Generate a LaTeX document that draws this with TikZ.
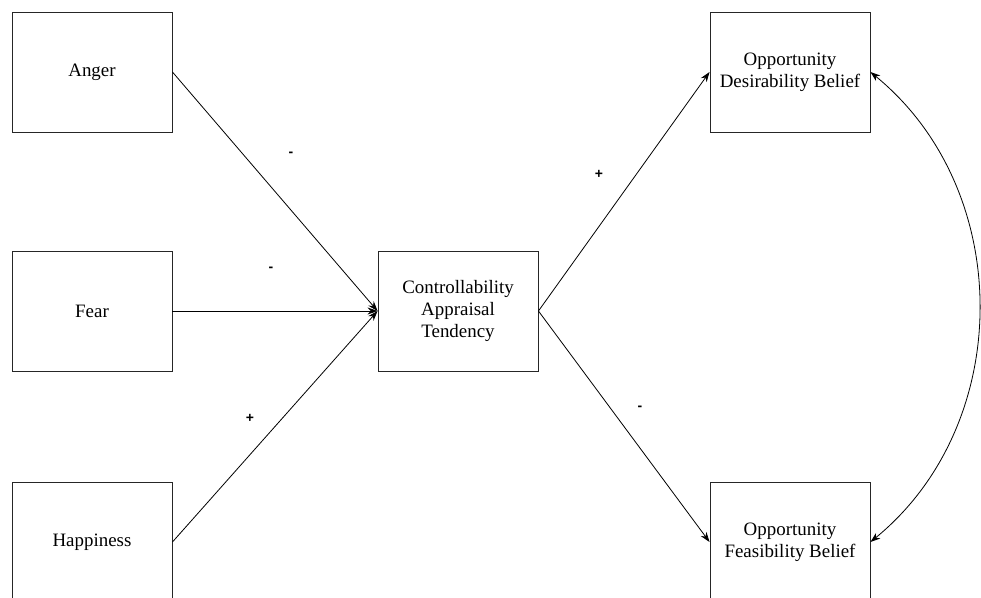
\documentclass[tikz,border=0pt]{standalone}
\usepackage{fontspec}
\setmainfont{Liberation Serif}
\setsansfont{Liberation Sans}
\usetikzlibrary{arrows.meta}
\begin{document}
\begin{tikzpicture}[x=1bp,y=-1bp,
  box/.style={draw=black!85,line width=0.9bp,minimum width=160bp,minimum height=120bp,
    inner sep=0pt,align=center,font=\fontsize{19}{22.5}\selectfont},
  tip/.style={Stealth[length=10bp,width=7bp]},
  link/.style={line width=0.8bp,-{Stealth[length=10bp,width=7bp]}},
  sign/.style={font=\sffamily\bfseries\fontsize{14}{14}\selectfont,inner sep=0pt}]
  \useasboundingbox (0,0) rectangle (981,598);
  \clip (0,0) rectangle (981,598);
  % predictor emotions
  \node[box] (anger) at (92,72) {Anger};
  \node[box] (fear)  at (92,311) {Fear};
  \node[box] (happy) at (92,542) {Happiness};
  % mediator
  \node[box] (ctrl) at (458,311) {Controllability\\Appraisal\\Tendency};
  % outcomes
  \node[box] (desir) at (790,72) {Opportunity\\Desirability Belief};
  \node[box] (feas)  at (790,542) {Opportunity\\Feasibility Belief};
  % paths
  \draw[link] (anger.east) -- (ctrl.west);
  \draw[link] (fear.east) -- (ctrl.west);
  \draw[link] (happy.east) -- (ctrl.west);
  \draw[link] (ctrl.east) -- (desir.west);
  \draw[link] (ctrl.east) -- (feas.west);
  % covariance between the two beliefs
  \draw[line width=0.8bp,{Stealth[length=10bp,width=7bp]}-{Stealth[length=10bp,width=7bp]}]
    (desir.east) .. controls (1015,190) and (1015,424) .. (feas.east);
  % path signs
  \node[sign] (s1) at (291,154) {-};
  \node[sign] (s2) at (271,269) {-};
  \node[sign] (s3) at (250,418) {+};
  \node[sign] (s4) at (599,174) {+};
  \node[sign] (s5) at (640,408) {-};
\end{tikzpicture}
\end{document}
